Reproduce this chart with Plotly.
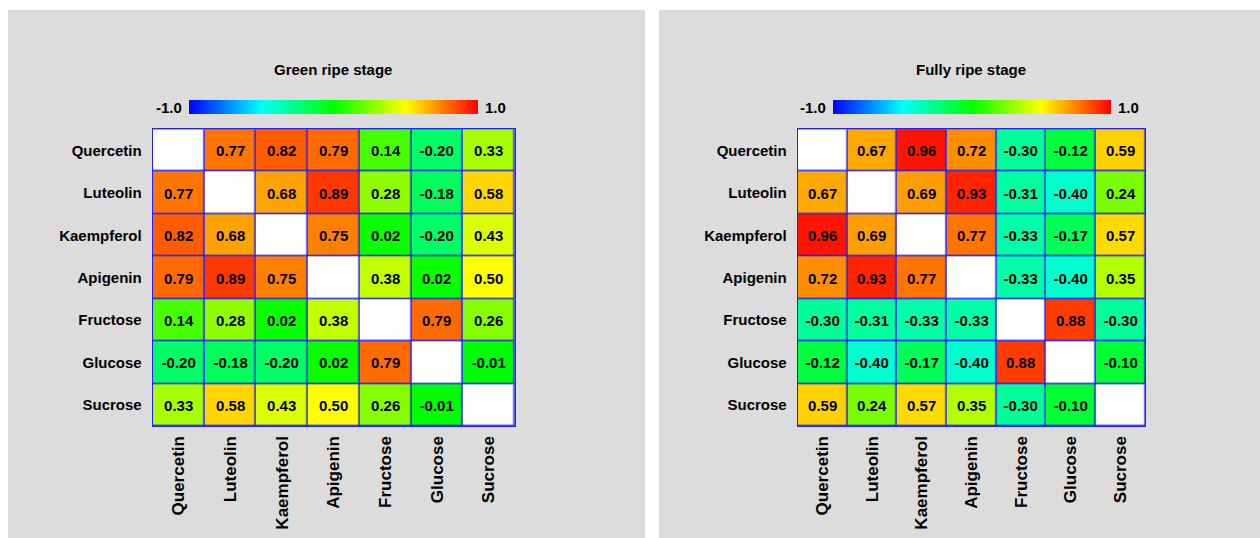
import numpy as np
import plotly.graph_objects as go

compounds = ["Quercetin", "Luteolin", "Kaempferol", "Apigenin", "Fructose", "Glucose", "Sucrose"]
nan = None
green_ripe = [
    [nan, 0.77, 0.82, 0.79, 0.14, -0.20, 0.33],
    [0.77, nan, 0.68, 0.89, 0.28, -0.18, 0.58],
    [0.82, 0.68, nan, 0.75, 0.02, -0.20, 0.43],
    [0.79, 0.89, 0.75, nan, 0.38, 0.02, 0.50],
    [0.14, 0.28, 0.02, 0.38, nan, 0.79, 0.26],
    [-0.20, -0.18, -0.20, 0.02, 0.79, nan, -0.01],
    [0.33, 0.58, 0.43, 0.50, 0.26, -0.01, nan],
]
fully_ripe = [
    [nan, 0.67, 0.96, 0.72, -0.30, -0.12, 0.59],
    [0.67, nan, 0.69, 0.93, -0.31, -0.40, 0.24],
    [0.96, 0.69, nan, 0.77, -0.33, -0.17, 0.57],
    [0.72, 0.93, 0.77, nan, -0.33, -0.40, 0.35],
    [-0.30, -0.31, -0.33, -0.33, nan, 0.88, -0.30],
    [-0.12, -0.40, -0.17, -0.40, 0.88, nan, -0.10],
    [0.59, 0.24, 0.57, 0.35, -0.30, -0.10, nan],
]
titles = ["Green ripe stage", "Fully ripe stage"]
zmin, zmax = -1.0, 1.0

W, H = 1260, 538
colorscale = [[0, "#0000ff"], [0.25, "#00ffff"], [0.5, "#00ff00"], [0.75, "#ffff00"], [1, "#ff0000"]]
NARROW = "Liberation Sans Narrow, Arial Narrow, Liberation Sans, Arial"
WIDE = "Liberation Sans, Arial"
GREY = "#dcdcdc"
BORDER = "#2020ff"
FS = 15

def px(x):
    return x / W

def py(y):
    return 1 - y / H

panels = [
    dict(bg=(8, 645), dom=(152.7, 514.7), cb=(189, 478), tx=332.7),
    dict(bg=(659, 1260), dom=(797.7, 1145.3), cb=(832.6, 1110.5), tx=970.5),
]
ytop, ybot = 129.3, 426.3

fig = go.Figure()
shapes = []
annotations = []
for i, (data, title, p) in enumerate(zip([green_ripe, fully_ripe], titles, panels)):
    xa = "x" if i == 0 else "x2"
    ya = "y" if i == 0 else "y2"
    text = [["" if v is None else f"{v:.2f}" for v in row] for row in data]
    cbx = (p["cb"][0] + p["cb"][1]) / 2
    cblen = p["cb"][1] - p["cb"][0]
    fig.add_trace(go.Heatmap(
        z=data, x=compounds, y=compounds, xaxis=xa, yaxis=ya,
        zmin=zmin, zmax=zmax, colorscale=colorscale,
        text=text, texttemplate="%{text}",
        textfont=dict(family=NARROW, size=FS, color="black", weight="bold"),
        xgap=1.5, ygap=1.5, hoverongaps=False,
        colorbar=dict(orientation="h", x=px(cbx), xanchor="center", y=py(107), yanchor="middle",
                      len=cblen, lenmode="pixels", thickness=14, thicknessmode="pixels",
                      outlinewidth=0, showticklabels=False, ticks="", xpad=0, ypad=0),
    ))
    diag = [[1 if r == c else None for c in range(len(compounds))] for r in range(len(compounds))]
    fig.add_trace(go.Heatmap(
        z=diag, x=compounds, y=compounds, xaxis=xa, yaxis=ya,
        colorscale=[[0, "white"], [1, "white"]], showscale=False,
        xgap=1.5, ygap=1.5, hoverinfo="skip",
    ))
    shapes.append(dict(type="rect", xref="paper", yref="paper", x0=px(p["bg"][0]), x1=px(p["bg"][1]),
                       y0=0, y1=py(10), fillcolor=GREY, line=dict(width=0), layer="below"))
    annotations.append(dict(text=title, x=px(p["tx"]), y=py(69), xref="paper", yref="paper",
                            showarrow=False, xanchor="center", yanchor="middle",
                            font=dict(family=NARROW, size=FS, color="black", weight="bold")))
    annotations.append(dict(text=f"{zmin:.1f}", x=px(p["cb"][0] - 5), y=py(107), xref="paper", yref="paper",
                            showarrow=False, xanchor="right", yanchor="middle",
                            font=dict(family=NARROW, size=FS, color="black", weight="bold")))
    annotations.append(dict(text=f"{zmax:.1f}", x=px(p["cb"][1] + 5), y=py(107), xref="paper", yref="paper",
                            showarrow=False, xanchor="left", yanchor="middle",
                            font=dict(family=NARROW, size=FS, color="black", weight="bold")))
for i in range(len(panels)):
    sx = "" if i == 0 else "2"
    shapes.append(dict(type="rect", xref="x" + sx + " domain", yref="y" + sx + " domain",
                       x0=0, x1=1, y0=0, y1=1, fillcolor=BORDER, line=dict(width=0), layer="below"))

axis_common = dict(showgrid=False, zeroline=False, ticks="", showline=True, linecolor=BORDER,
                   linewidth=1, mirror=True)
layout = dict(
    width=W, height=H, margin=dict(l=0, r=0, t=0, b=0),
    paper_bgcolor="white", plot_bgcolor=BORDER,
    shapes=shapes, annotations=annotations, showlegend=False,
)
for i, p in enumerate(panels):
    sx = "" if i == 0 else "2"
    layout["xaxis" + sx] = dict(axis_common, domain=[px(p["dom"][0]), px(p["dom"][1])],
                                anchor="y" + sx, tickangle=-90,
                                tickfont=dict(family=WIDE, size=17, color="black", weight="bold"),
                                ticklabelstandoff=2)
    layout["yaxis" + sx] = dict(axis_common, domain=[py(ybot), py(ytop)], anchor="x" + sx,
                                autorange="reversed",
                                tickfont=dict(family=NARROW, size=FS, color="black", weight="bold"),
                                ticklabelstandoff=7)
fig.update_layout(**layout)
fig.write_html("out.html")
